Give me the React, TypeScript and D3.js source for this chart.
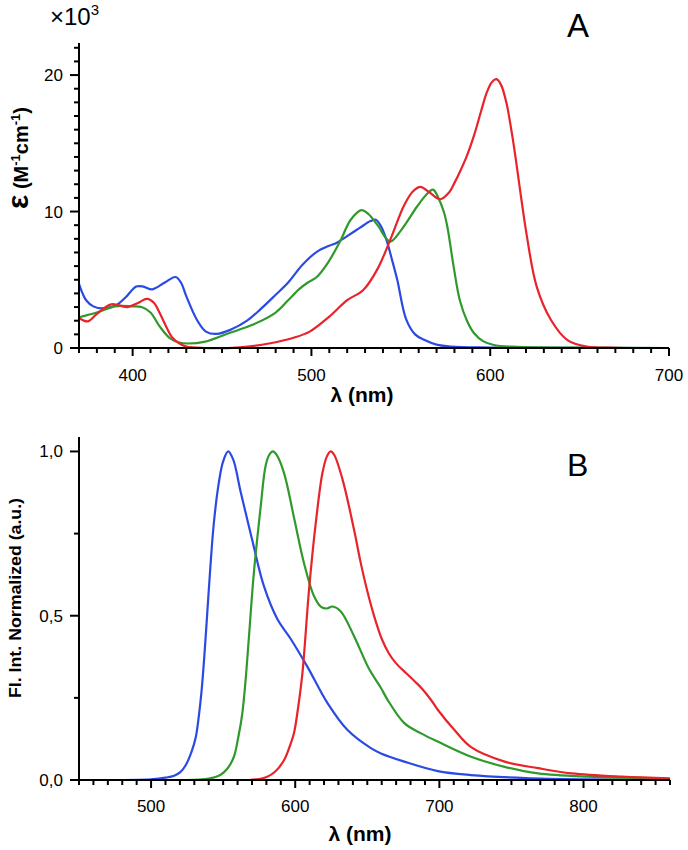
import React from "react";
import * as d3 from "d3";

// ---------- Data ----------
type P = [number, number];

// Panel A: absorption (x: nm, y: ×10^3 M^-1 cm^-1)
const absBlue: P[] = [
  [370, 4.7], [372, 4.0], [374, 3.5], [378, 3.05], [384, 2.9], [391, 3.15], [396, 3.7], [402, 4.5],
  [406, 4.5], [411, 4.3], [418, 4.8], [424, 5.2], [427, 4.8], [430, 3.8], [436, 2.05], [441, 1.2],
  [447, 1.03], [455, 1.35], [464, 2.0], [472, 2.9], [480, 3.9], [487, 4.8], [495, 6.1], [503, 7.05],
  [510, 7.5], [514, 7.7], [520, 8.2], [527, 8.8], [533, 9.3], [536, 9.4], [539, 8.9], [542, 7.9],
  [545, 6.5], [548, 5.0], [553, 2.1], [558, 1.0], [563, 0.6], [570, 0.25], [578, 0.1], [600, 0.03], [700, 0],
];
const absRed: P[] = [
  [370, 2.2], [375, 1.95], [380, 2.5], [388, 3.2], [397, 3.0], [403, 3.3], [408, 3.6], [412, 3.3],
  [415, 2.6], [419, 1.5], [422, 0.8], [426, 0.35], [430, 0.1], [440, 0.0], [460, 0.05], [477, 0.35],
  [490, 0.75], [499, 1.2], [510, 2.3], [520, 3.5], [529, 4.25], [537, 5.8], [544, 7.9], [552, 10.5],
  [557, 11.5], [561, 11.8], [566, 11.4], [572, 10.9], [577, 11.4], [580, 12.1], [583, 12.9], [587, 14.1],
  [591, 15.6], [595, 17.4], [598, 18.7], [601, 19.5], [603.5, 19.7], [606, 19.3], [609, 18.0], [613, 15.0],
  [617, 11.3], [620.5, 8.2], [626, 4.5], [634, 2.05], [643, 0.6], [654, 0.1], [670, 0.02], [700, 0],
];
const absGreen: P[] = [
  [370, 2.25], [380, 2.6], [390, 3.05], [400, 3.05], [405, 3.0], [410, 2.6], [415, 1.6], [421, 0.7],
  [426, 0.4], [431, 0.33], [440, 0.45], [453, 1.05], [467, 1.7], [480, 2.6], [487, 3.5], [493, 4.3],
  [498, 4.8], [503, 5.2], [509, 6.2], [516, 7.8], [522, 9.4], [528, 10.1], [532, 9.8], [537, 9.0],
  [544, 7.8], [550, 8.6], [559, 10.35], [564, 11.2], [568, 11.6], [571, 11.0], [574, 10.0], [576, 8.9],
  [579.5, 6.0], [583, 3.5], [587, 2.0], [591, 1.08], [596, 0.5], [602, 0.22], [615, 0.08], [650, 0.03], [700, 0],
];

// Panel B: normalized fluorescence
const emBlue: P[] = [
  [477, 0], [500, 0.002], [510, 0.007], [516, 0.013], [520.3, 0.024], [524, 0.045], [528, 0.085],
  [531, 0.13], [533, 0.19], [535, 0.27], [537, 0.38], [539, 0.51], [541, 0.64], [543.5, 0.78], [547, 0.905],
  [550, 0.97], [553.5, 1.0], [557, 0.975], [562, 0.88], [570.2, 0.73], [578.3, 0.59], [587.6, 0.49],
  [596.8, 0.43], [608.4, 0.345], [622.4, 0.234], [636.3, 0.152], [652.5, 0.097], [659.5, 0.081],
  [675.7, 0.056], [698.9, 0.027], [722, 0.015], [760, 0.006], [800, 0.002], [850, 0],
];
const emGreen: P[] = [
  [524, 0], [540, 0.004], [548, 0.015], [553, 0.035], [557.4, 0.07], [560.5, 0.13], [563.2, 0.2],
  [565.5, 0.3], [567.8, 0.43], [571.3, 0.63], [576, 0.83], [579.4, 0.955], [582, 0.99], [584.5, 1.0],
  [587, 0.99], [592.2, 0.935], [599.1, 0.8], [606.1, 0.66], [613, 0.56], [617.7, 0.528], [622, 0.522],
  [625.8, 0.528], [631.6, 0.513], [640.9, 0.437], [651, 0.34], [659.5, 0.28], [664.1, 0.244],
  [675.7, 0.173], [687.3, 0.142], [698.9, 0.117], [722, 0.071], [745.3, 0.04], [768.5, 0.02],
  [803.3, 0.01], [851, 0.005],
];
const emRed: P[] = [
  [568, 0], [575, 0.003], [580.6, 0.01], [586, 0.025], [592.2, 0.06], [596, 0.1], [599.1, 0.142],
  [602, 0.22], [605, 0.325], [609.6, 0.58], [614.2, 0.78], [618.9, 0.935], [622, 0.985], [624.6, 1.0],
  [627, 0.99], [632.8, 0.915], [640.9, 0.76], [645, 0.67], [650, 0.575], [655, 0.495], [660, 0.43],
  [665, 0.385], [670, 0.355], [677, 0.325], [683, 0.3], [688, 0.278], [694, 0.245], [699, 0.213],
  [710.5, 0.152], [722, 0.1], [745.3, 0.056], [768.5, 0.036], [791.7, 0.02], [826.5, 0.01], [860, 0.005],
];

const topXTicks = [400, 500, 600, 700];
const topYTicks = [0, 10, 20];
const botXTicks = [500, 600, 700, 800];
const botYTicks = [0, 0.5, 1.0];
const botYLabels = ["0,0", "0,5", "1,0"];

const BLUE = "#2b4ae4";
const RED = "#e8232a";
const GREEN = "#2f9a2b";
const FONT = "'Liberation Sans', Arial, sans-serif";

export default function App() {
  // Panel A scales
  const xA = d3.scaleLinear().domain([370, 700]).range([79, 669]);
  const yA = d3.scaleLinear().domain([0, 22.35]).range([348, 43]);
  // Panel B scales
  const xB = d3.scaleLinear().domain([450, 860]).range([79, 670]);
  const yB = d3.scaleLinear().domain([0, 1.044]).range([780, 437]);

  const curve = d3.curveCatmullRom.alpha(0.5);
  const lineA = d3.line<P>().x((d) => xA(d[0])).y((d) => Math.min(yA(0), yA(d[1]))).curve(curve);
  const lineB = d3.line<P>().x((d) => xB(d[0])).y((d) => yB(d[1])).curve(curve);

  const minorA = d3.range(370, 701, 10);
  const minorAy = d3.range(0, 23, 1);
  const minorB = d3.range(450, 861, 10);
  const minorBy = [0.25, 0.75];

  const axisStroke = { stroke: "#000", strokeWidth: 2 };

  return (
    <svg width={688} height={850} style={{ position: "absolute", left: 0, top: 0, background: "#fff" }}
      fontFamily={FONT}>
      <rect x={0} y={0} width={688} height={850} fill="#fff" />
      {/* ---------- Panel A ---------- */}
      <g>
        {[ [absBlue, BLUE], [absGreen, GREEN], [absRed, RED] ].map(([d, c], i) => (
          <path key={i} d={lineA(d as P[]) || ""} fill="none" stroke={c as string} strokeWidth={2.2} />
        ))}
        <line x1={xA(370)} x2={xA(700)} y1={yA(0)} y2={yA(0)} {...axisStroke} />
        <line x1={xA(370)} x2={xA(370)} y1={yA(0) + 1} y2={yA(22.35)} {...axisStroke} />
        {minorA.map((v) => {
          const major = topXTicks.includes(v);
          return <line key={"ax" + v} x1={xA(v)} x2={xA(v)} y1={yA(0)} y2={yA(0) + (major ? 8 : 5)} {...axisStroke} />;
        })}
        {minorAy.map((v) => {
          const major = topYTicks.includes(v);
          return <line key={"ay" + v} x1={xA(370)} x2={xA(370) - (major ? 9 : 5)} y1={yA(v)} y2={yA(v)} {...axisStroke} />;
        })}
        {topXTicks.map((v) => (
          <text key={"axl" + v} x={xA(v)} y={yA(0) + 33} textAnchor="middle" fontSize={17}>{v}</text>
        ))}
        {topYTicks.map((v) => (
          <text key={"ayl" + v} x={63} y={yA(v) + 6} textAnchor="end" fontSize={17}>{v}</text>
        ))}
        <text x={362} y={402} textAnchor="middle" fontSize={21} fontWeight="bold">λ (nm)</text>
        <text x={50} y={25} fontSize={24}>×10<tspan dy={-10} fontSize={15}>3</tspan></text>
        <text x={567} y={37} fontSize={33}>A</text>
        <text transform="translate(28,158) rotate(-90)" textAnchor="middle" fontSize={20} fontWeight="bold">
          <tspan fontSize={30}>ε</tspan> (M<tspan dy={-8} fontSize={13}>-1</tspan><tspan dy={8}>cm</tspan><tspan dy={-8} fontSize={13}>-1</tspan><tspan dy={8}>)</tspan>
        </text>
      </g>

      {/* ---------- Panel B ---------- */}
      <g>
        {[ [emBlue, BLUE], [emGreen, GREEN], [emRed, RED] ].map(([d, c], i) => (
          <path key={i} d={lineB(d as P[]) || ""} fill="none" stroke={c as string} strokeWidth={2.2} />
        ))}
        <line x1={xB(450)} x2={xB(860)} y1={yB(0)} y2={yB(0)} {...axisStroke} />
        <line x1={xB(450)} x2={xB(450)} y1={yB(0) + 1} y2={yB(1.044)} {...axisStroke} />
        {minorB.map((v) => {
          const major = botXTicks.includes(v);
          return <line key={"bx" + v} x1={xB(v)} x2={xB(v)} y1={yB(0)} y2={yB(0) + (major ? 8 : 5)} {...axisStroke} />;
        })}
        {botYTicks.map((v) => (
          <line key={"by" + v} x1={xB(450)} x2={xB(450) - 9} y1={yB(v)} y2={yB(v)} {...axisStroke} />
        ))}
        {minorBy.map((v) => (
          <line key={"bym" + v} x1={xB(450)} x2={xB(450) - 5} y1={yB(v)} y2={yB(v)} {...axisStroke} />
        ))}
        {botXTicks.map((v) => (
          <text key={"bxl" + v} x={xB(v)} y={yB(0) + 32} textAnchor="middle" fontSize={17}>{v}</text>
        ))}
        {botYTicks.map((v, i) => (
          <text key={"byl" + v} x={63} y={yB(v) + 6} textAnchor="end" fontSize={17}>{botYLabels[i]}</text>
        ))}
        <text x={360} y={841} textAnchor="middle" fontSize={21} fontWeight="bold">λ (nm)</text>
        <text x={567} y={476} fontSize={32}>B</text>
        <text transform="translate(21,598) rotate(-90)" textAnchor="middle" fontSize={16} fontWeight="bold"
          textLength={200} lengthAdjust="spacingAndGlyphs">
          Fl. Int. Normalized (a.u.)
        </text>
      </g>
    </svg>
  );
}
